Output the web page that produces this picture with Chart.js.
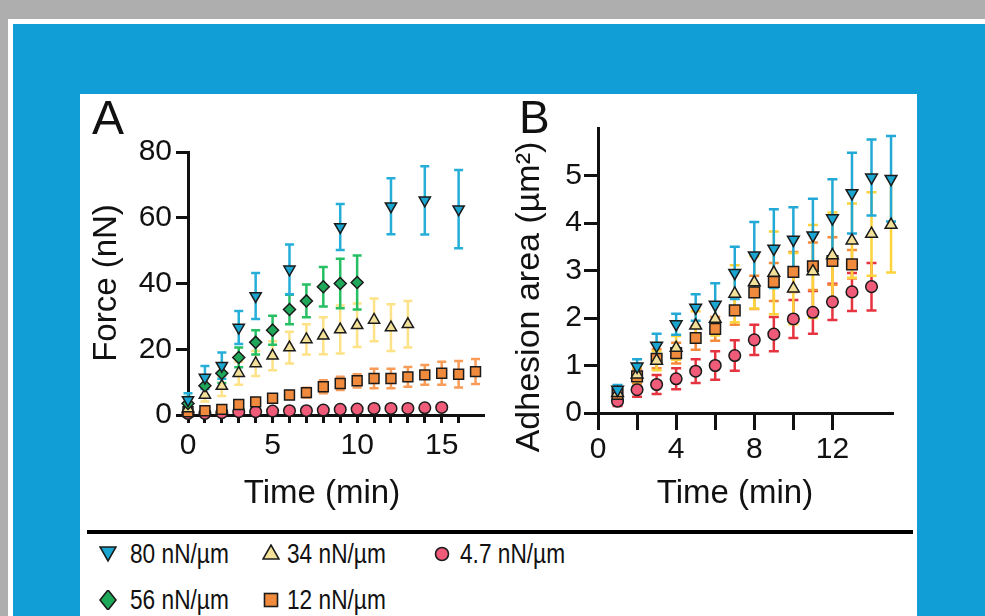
<!DOCTYPE html>
<html lang="en">
<head>
<meta charset="UTF-8">
<title>Force and adhesion area</title>
<script src="https://cdn.jsdelivr.net/npm/chart.js"></script>
<style>
  body { margin: 0; width: 985px; height: 616px; overflow: hidden; background: #aeaeae; position: relative;
         font-family: "Liberation Sans", Arial, sans-serif; color: #111; }
  .abs { position: absolute; }
  #frame { left: 8px; top: 19px; right: 0; bottom: 0; background: #fff; }
  #blue { left: 13px; top: 24px; right: 0; bottom: 0; background: #119ed6; }
  #panel { left: 80px; top: 94px; width: 837px; height: 522px; background: #fff; }
  canvas { position: absolute; }
  .letter { line-height: 1; top: 94px; }
  .title { line-height: 1; font-size: 33px; white-space: nowrap; transform: translate(-50%, -50%); }
  .rot { transform: translate(-50%, -50%) rotate(-90deg); }
  #rule { left: 87px; top: 530px; width: 826px; height: 4px; background: #000; }
  .sym { position: absolute; transform: translate(-50%, -50%); }
  .lab { position: absolute; font-size: 28px; line-height: 1; white-space: nowrap;
         transform-origin: left center; transform: translateY(-50%) scaleX(0.81); }
</style>
</head>
<body>
<div id="frame" class="abs"></div>
<div id="blue" class="abs"></div>
<div id="panel" class="abs"></div>

<canvas id="chartA" width="420" height="438" style="left:80px; top:94px;"></canvas>
<canvas id="chartB" width="417" height="438" style="left:500px; top:94px;"></canvas>

<div class="abs letter" style="left:92px; font-size:48px;">A</div>
<div class="abs letter" style="left:519px; font-size:46px;">B</div>
<div class="abs title" style="left:322px; top:491px;">Time (min)</div>
<div class="abs title" style="left:735px; top:491px;">Time (min)</div>
<div class="abs title rot" style="left:104px; top:283px;">Force (nN)</div>
<div class="abs title rot" style="left:527px; top:297px; font-size:34px;">Adhesion area (µm²)</div>

<div id="rule" class="abs"></div>
<div id="legend"></div>

<script>
// Panel A: force (nN) vs time (min), mean and error
var timeA80 = [0, 1, 2, 3, 4, 6, 9, 12, 14, 16];
var forceA80 = [4.6, 11.4, 15, 26.6, 36.2, 44.3, 57.2, 63.5, 65.3, 62.6];
var errA80 = [2, 3.5, 4, 5, 7, 7.6, 7, 8.5, 10.4, 11.9];

var timeA56 = [0, 1, 2, 3, 4, 5, 6, 7, 8, 9, 10];
var forceA56 = [3.5, 8.9, 12.7, 17.5, 22.1, 25.8, 32.1, 34.7, 39, 40, 40.3];
var errA56 = [2, 3, 3, 3, 3.7, 4.4, 4.5, 5, 6, 7.5, 8.2];

var timeA34 = [0, 1, 2, 3, 4, 5, 6, 7, 8, 9, 10, 11, 12, 13];
var forceA34 = [2, 6.1, 8.8, 12.7, 15.7, 18, 20.5, 23, 24.1, 26, 27.3, 28.9, 26.6, 27.6];
var errA34 = [1, 2, 3, 3.5, 3.8, 4.4, 4.8, 4.6, 5.6, 7.3, 6.6, 6.5, 7.1, 7.1];

var timeA12 = [0, 1, 2, 3, 4, 5, 6, 7, 8, 9, 10, 11, 12, 13, 14, 15, 16, 17];
var forceA12 = [1, 1.3, 1.7, 3.2, 4, 5.1, 6.1, 6.8, 8.6, 9.6, 10.4, 11.1, 11.1, 11.6, 12.2, 12.7, 12.4, 13.2];
var errA12 = [0.5, 0.5, 0.6, 0.8, 1, 1, 1.2, 1.5, 2, 2, 2, 3, 3, 3, 3, 3.5, 4, 3.8];

var timeA47 = [0, 1, 2, 3, 4, 5, 6, 7, 8, 9, 10, 11, 12, 13, 14, 15];
var forceA47 = [0.5, 0.5, 0.7, 1, 1, 1.2, 1.3, 1.3, 1.5, 1.7, 1.8, 2, 2, 2, 2.2, 2.3];
var errA47 = [0.4, 0.4, 0.4, 0.4, 0.4, 0.4, 0.4, 0.4, 0.4, 0.4, 0.4, 0.4, 0.4, 0.4, 0.4, 0.4];

// Panel B: adhesion area (µm²) vs time (min)
var timeB80 = [1, 2, 3, 4, 5, 6, 7, 8, 9, 10, 11, 12, 13, 14, 15];
var areaB80 = [0.49, 0.98, 1.42, 1.87, 2.22, 2.28, 2.95, 3.32, 3.46, 3.65, 3.74, 4.1, 4.63, 4.96, 4.93];
var errB80 = [0.1, 0.15, 0.25, 0.22, 0.28, 0.45, 0.55, 0.7, 0.83, 0.68, 0.77, 0.82, 0.85, 0.8, 0.9];

var timeB34 = [1, 2, 3, 4, 5, 6, 7, 8, 9, 10, 11, 12, 13, 14, 15];
var areaB34 = [0.42, 0.81, 1.1, 1.37, 1.84, 1.98, 2.51, 2.75, 2.95, 2.62, 2.98, 3.32, 3.63, 3.77, 3.96];
var errB34 = [0.1, 0.15, 0.2, 0.25, 0.3, 0.35, 0.6, 0.55, 0.87, 0.75, 0.98, 0.9, 0.78, 0.88, 1.0];

var timeB12 = [1, 2, 3, 4, 5, 6, 7, 8, 9, 10, 11, 12, 13];
var areaB12 = [0.4, 0.77, 1.14, 1.26, 1.58, 1.77, 2.16, 2.54, 2.76, 2.97, 3.09, 3.2, 3.13];
var errB12 = [0.1, 0.15, 0.2, 0.22, 0.25, 0.25, 0.3, 0.35, 0.4, 0.42, 0.5, 0.5, 0.3];

var timeB47 = [1, 2, 3, 4, 5, 6, 7, 8, 9, 10, 11, 12, 13, 14];
var areaB47 = [0.25, 0.49, 0.6, 0.72, 0.88, 1.0, 1.21, 1.54, 1.66, 1.98, 2.12, 2.34, 2.55, 2.66];
var errB47 = [0.1, 0.15, 0.2, 0.22, 0.25, 0.3, 0.32, 0.32, 0.36, 0.4, 0.45, 0.38, 0.4, 0.5];

var ticksAx = [0, 5, 10, 15];
var ticksAy = [0, 20, 40, 60, 80];
var ticksBx = [0, 4, 8, 12];
var ticksBy = [0, 1, 2, 3, 4, 5];

var seriesLabels = ['80 nN/µm', '56 nN/µm', '34 nN/µm', '12 nN/µm', '4.7 nN/µm'];

var edge = '#1b1b1b';
var ink = '#111';

function pts(xs, ys) {
    return xs.map(function (x, i) { return { x: x, y: ys[i] }; });
}

function series(xs, ys, errs, fill, errColor, style, r, rot) {
    return {
        data: pts(xs, ys),
        errors: errs,
        errorColor: errColor,
        backgroundColor: fill,
        borderColor: edge,
        borderWidth: 1.5,
        pointStyle: style,
        pointRadius: r,
        rotation: rot || 0,
        showLine: false,
        clip: false,
    };
}

// error bars drawn through the y scale, behind the markers
var errorBars = {
    id: 'errorBars',
    beforeDatasetsDraw: function (chart, args, opts) {
        var ctx = chart.ctx;
        var yScale = chart.scales.y;
        for (var d = chart.data.datasets.length - 1; d >= 0; d--) {
            var ds = chart.data.datasets[d];
            var meta = chart.getDatasetMeta(d);
            ctx.save();
            ctx.strokeStyle = ds.errorColor;
            ctx.lineWidth = 2.5;
            for (var i = 0; i < meta.data.length; i++) {
                var px = meta.data[i].x;
                var v = ds.data[i].y, e = ds.errors[i];
                var top = yScale.getPixelForValue(v + e);
                var bot = yScale.getPixelForValue(Math.max(v - e, 0));
                ctx.beginPath();
                ctx.moveTo(px, top); ctx.lineTo(px, bot);
                ctx.moveTo(px - opts.cap, top); ctx.lineTo(px + opts.cap, top);
                ctx.moveTo(px - opts.cap, bot); ctx.lineTo(px + opts.cap, bot);
                ctx.stroke();
            }
            ctx.restore();
        }
    }
};

function keepTicks(list) {
    return function (scale) {
        scale.ticks = scale.ticks.filter(function (t) { return list.indexOf(t.value) >= 0; });
    };
}

function axis(min, max, step, labels, keep, tickLen, pad, size, fit, horizontal) {
    return {
        type: 'linear',
        min: min,
        max: max,
        afterBuildTicks: keepTicks(keep),
        afterFit: function (scale) {
            if (horizontal) scale.height = fit; else scale.width = fit;
        },
        ticks: {
            stepSize: step,
            autoSkip: false,
            maxRotation: 0,
            padding: pad,
            color: ink,
            font: { family: '"Liberation Sans", Arial, sans-serif', size: size },
            callback: function (v) { return labels.indexOf(v) >= 0 ? String(v) : ''; }
        },
        grid: { drawOnChartArea: false, drawTicks: true, tickLength: tickLen, tickWidth: 3, tickColor: ink },
        border: { display: true, color: ink, width: 3 }
    };
}

function range(a, b, s) {
    var out = [];
    for (var v = a; v <= b; v += s) out.push(v);
    return out;
}

Chart.defaults.animation = false;

var chartA = new Chart(document.getElementById('chartA'), {
    type: 'scatter',
    data: {
        datasets: [
            series(timeA80, forceA80, errA80, '#1ba6d1', '#25aed8', 'triangle', 6.5, 180),
            series(timeA56, forceA56, errA56, '#20a85a', '#27bf63', 'rectRot', 6, 0),
            series(timeA34, forceA34, errA34, '#f3e19a', '#fde287', 'triangle', 6.5, 0),
            series(timeA12, forceA12, errA12, '#f08a3c', '#f89c58', 'rect', 7, 0),
            series(timeA47, forceA47, errA47, '#ef5b78', '#f27a8f', 'circle', 5.8, 0),
        ]
    },
    options: {
        responsive: false,
        layout: { padding: { left: 0, top: 58, right: 16, bottom: 7 } },
        plugins: { legend: { display: false }, tooltip: { enabled: false }, errorBars: { cap: 4.5 } },
        events: [],
        scales: {
            x: axis(0, 17.5, 1, ticksAx, range(0, 17, 1), 8, 5, 30, 110, true),
            y: axis(0, 80, 20, ticksAy, ticksAy, 12, 4, 30, 108, false)
        }
    },
    plugins: [errorBars]
});

var chartB = new Chart(document.getElementById('chartB'), {
    type: 'scatter',
    data: {
        datasets: [
            series(timeB80, areaB80, errB80, '#1ba6d1', '#22a9d6', 'triangle', 6.8, 180),
            series(timeB34, areaB34, errB34, '#f3e19a', '#fcd33c', 'triangle', 6.8, 0),
            series(timeB12, areaB12, errB12, '#f08a3c', '#f58a3a', 'rect', 7.5, 0),
            series(timeB47, areaB47, errB47, '#ef5b78', '#e5333f', 'circle', 5.8, 0),
        ]
    },
    options: {
        responsive: false,
        layout: { padding: { left: 0, top: 34, right: 24, bottom: 9 } },
        plugins: { legend: { display: false }, tooltip: { enabled: false }, errorBars: { cap: 5 } },
        events: [],
        scales: {
            x: axis(0, 15.1, 2, ticksBx, range(0, 14, 2), 17, 2, 30, 110, true),
            y: axis(0, 6, 1, ticksBy, ticksBy, 14, 2, 30, 98, false)
        }
    },
    plugins: [errorBars]
});

// shared legend below the rule
var legendItems = [
    { label: seriesLabels[0], fill: '#1ba6d1', shape: 'down', sx: 108, tx: 130, y: 554 },
    { label: seriesLabels[1], fill: '#20a85a', shape: 'diamond', sx: 108, tx: 130, y: 600 },
    { label: seriesLabels[2], fill: '#f3e19a', shape: 'up', sx: 271, tx: 287, y: 554 },
    { label: seriesLabels[3], fill: '#f08a3c', shape: 'square', sx: 271, tx: 287, y: 600 },
    { label: seriesLabels[4], fill: '#ef5b78', shape: 'circle', sx: 442, tx: 460, y: 554 },
];
var shapes = {
    down: '<polygon points="1,3 17,3 9,17" />',
    up: '<polygon points="1,15 17,15 9,1" />',
    diamond: '<polygon points="9,0 17,10 9,20 1,10" />',
    square: '<rect x="2.5" y="3.5" width="13" height="13" />',
    circle: '<circle cx="9" cy="10" r="6.5" />'
};
var legend = document.getElementById('legend');
legendItems.forEach(function (it) {
    var s = document.createElement('div');
    s.className = 'sym';
    s.style.left = it.sx + 'px';
    s.style.top = it.y + 'px';
    s.innerHTML = '<svg width="18" height="20" viewBox="0 0 18 20" style="display:block">' +
        '<g fill="' + it.fill + '" stroke="' + edge + '" stroke-width="1.6">' + shapes[it.shape] + '</g></svg>';
    legend.appendChild(s);
    var t = document.createElement('div');
    t.className = 'lab';
    t.style.left = it.tx + 'px';
    t.style.top = it.y + 'px';
    t.textContent = it.label;
    legend.appendChild(t);
});
</script>
</body>
</html>
